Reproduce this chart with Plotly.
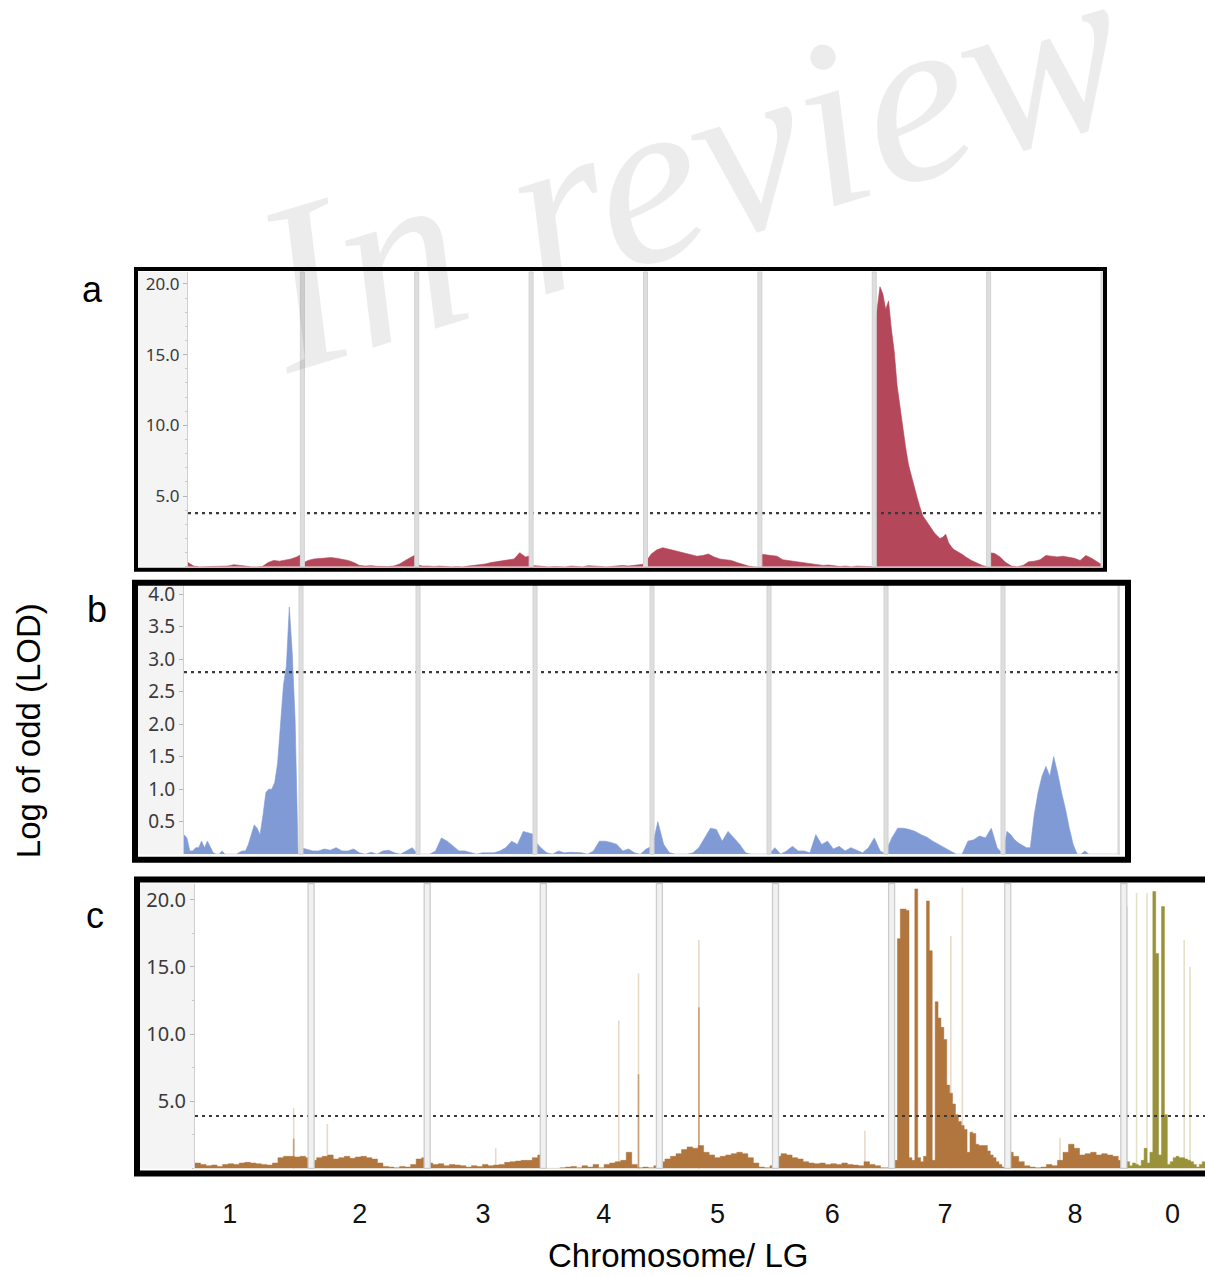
import plotly.graph_objects as go

W, H = 1205, 1276

# ---------------- data ----------------
lg_names = ["1", "2", "3", "4", "5", "6", "7", "8", "0"]
lg_label_pos = [0.30, 1.42, 2.48, 3.52, 4.50, 5.49, 6.46, 7.58, 8.42]

ticks_a = [5.0, 10.0, 15.0, 20.0]
ticks_b = [0.5, 1.0, 1.5, 2.0, 2.5, 3.0, 3.5, 4.0]
ticks_c = [5.0, 10.0, 15.0, 20.0]

threshold_a = 3.8
threshold_b = 2.8
threshold_c = 3.9

# panel a: LOD profile per linkage group 1..8 (evenly spaced markers along each LG)
lod_a = [
    [0.3, 0.05, 0.0, 0.0, 0.0, 0.0, 0.0, 0.05, 0.15, 0.1, 0.0, 0.0, 0.0, 0.02, 0.3, 0.45, 0.4, 0.45, 0.55, 0.7, 0.9],
    [0.25, 0.45, 0.55, 0.6, 0.65, 0.65, 0.6, 0.55, 0.45, 0.3, 0.1, 0.05, 0.08, 0.03, 0.0, 0.02, 0.05, 0.2, 0.45, 0.7, 0.9],
    [0.15, 0.05, 0.05, 0.02, 0.05, 0.0, 0.0, 0.02, 0.0, 0.05, 0.1, 0.12, 0.2, 0.3, 0.35, 0.4, 0.45, 0.55, 1.0, 0.7, 0.8],
    [0.1, 0.05, 0.0, 0.0, 0.02, 0.0, 0.0, 0.05, 0.02, 0.0, 0.08, 0.05, 0.0, 0.0, 0.02, 0.05, 0.1, 0.05, 0.1, 0.15, 0.2],
    [0.3, 0.9, 1.2, 1.35, 1.25, 1.15, 1.05, 1.0, 0.85, 0.75, 0.8, 0.9, 0.7, 0.55, 0.5, 0.45, 0.3, 0.15, 0.05, 0.0, 0.0],
    [0.9, 0.85, 0.8, 0.75, 0.5, 0.45, 0.4, 0.35, 0.3, 0.25, 0.2, 0.1, 0.12, 0.05, 0.02, 0.05, 0.0, 0.05, 0.02, 0.0, 0.0],
    [17.0, 18.2, 19.8, 19.3, 18.2, 18.8, 16.8, 15.2, 12.8, 11.3, 9.7, 8.4, 7.2, 6.4, 5.5, 4.9, 4.2, 3.6, 3.3, 3.0,
     2.7, 2.4, 2.2, 2.0, 2.1, 2.3, 1.7, 1.4, 1.2, 1.1, 1.0, 0.85, 0.7, 0.55, 0.45, 0.35, 0.25, 0.15, 0.08, 0.03, 0.0],
    [1.0, 0.95, 0.7, 0.3, 0.05, 0.0, 0.1, 0.35, 0.4, 0.5, 0.8, 0.75, 0.7, 0.75, 0.7, 0.6, 0.45, 0.8, 0.6, 0.35, 0.1],
]

# panel b
lod_b = [
    [0.3, 0.25, 0.05, 0.05, 0.1, 0.1, 0.2, 0.1, 0.2, 0.1, 0.02, 0.0, 0.0, 0.05, 0.0, 0.0, 0.0, 0.0, 0.0, 0.03,
     0.05, 0.05, 0.15, 0.3, 0.45, 0.4, 0.3, 0.6, 0.95, 1.0, 1.0, 1.1, 1.4, 2.0, 2.6, 2.9, 3.8, 3.1, 2.05, 0.0, 0.0],
    [0.1, 0.08, 0.05, 0.05, 0.08, 0.06, 0.1, 0.05, 0.05, 0.08, 0.02, 0.0, 0.03, 0.0, 0.05, 0.06, 0.02, 0.0, 0.05, 0.1, 0.0],
    [0.0, 0.0, 0.0, 0.05, 0.25, 0.2, 0.12, 0.05, 0.05, 0.02, 0.0, 0.02, 0.02, 0.02, 0.05, 0.1, 0.2, 0.15, 0.35, 0.33, 0.3],
    [0.2, 0.1, 0.02, 0.0, 0.05, 0.02, 0.03, 0.03, 0.02, 0.0, 0.05, 0.2, 0.2, 0.18, 0.15, 0.05, 0.08, 0.02, 0.0, 0.08, 0.12],
    [0.1, 0.5, 0.15, 0.02, 0.0, 0.0, 0.0, 0.02, 0.1, 0.25, 0.4, 0.38, 0.2, 0.35, 0.25, 0.15, 0.02, 0.0, 0.0, 0.0, 0.0],
    [0.0, 0.1, 0.0, 0.05, 0.12, 0.05, 0.05, 0.02, 0.3, 0.15, 0.2, 0.08, 0.12, 0.05, 0.1, 0.06, 0.02, 0.1, 0.25, 0.05, 0.0],
    [0.05, 0.25, 0.4, 0.4, 0.38, 0.35, 0.3, 0.26, 0.2, 0.15, 0.1, 0.05, 0.0, 0.0, 0.2, 0.22, 0.28, 0.25, 0.4, 0.1, 0.0],
    [0.0, 0.35, 0.3, 0.22, 0.17, 0.13, 0.1, 0.1, 0.6, 0.95, 1.2, 1.35, 1.2, 1.5, 1.25, 0.95, 0.7, 0.4, 0.15, 0.0,
     0.0, 0.05, 0.0, 0.0, 0.0, 0.0, 0.0, 0.0, 0.0, 0.0, 0.0],
]

# panel c: binned LOD per LG 1..8 and 0
lod_c = [
    [0.4, 0.3, 0.2, 0.25, 0.15, 0.3, 0.35, 0.3, 0.4, 0.45, 0.4, 0.35, 0.3, 0.25, 0.4, 0.8, 0.9, 0.9, 0.85, 0.9, 0.8],
    [0.6, 0.8, 0.9, 1.0, 0.7, 0.8, 0.9, 0.75, 0.85, 0.9, 0.8, 0.7, 0.4, 0.15, 0.1, 0.05, 0.15, 0.1, 0.3, 0.7, 0.8],
    [0.4, 0.3, 0.35, 0.2, 0.3, 0.25, 0.2, 0.1, 0.2, 0.15, 0.3, 0.2, 0.25, 0.3, 0.45, 0.5, 0.55, 0.6, 0.6, 0.8, 1.0],
    [0.0, 0.0, 0.0, 0.05, 0.1, 0.15, 0.05, 0.2, 0.1, 0.3, 0.05, 0.3, 0.4, 0.5, 0.6, 1.2, 0.3, 0.05, 0.1, 0.05, 0.2],
    [0.5, 0.7, 0.9, 1.1, 1.4, 1.6, 1.5, 1.7, 1.2, 1.0, 0.8, 0.9, 1.0, 1.1, 1.2, 1.1, 0.8, 0.4, 0.1, 0.05, 0.2],
    [0.9, 1.1, 1.0, 0.8, 0.7, 0.5, 0.4, 0.35, 0.4, 0.3, 0.35, 0.3, 0.4, 0.3, 0.25, 0.2, 0.5, 0.3, 0.2, 0.05, 0.05],
    [0.3, 0.6, 17.1, 19.3, 19.3, 19.2, 0.8, 0.6, 20.8, 0.8, 0.5, 0.9, 19.9, 16.2, 0.6, 12.4, 11.2, 10.5, 9.6, 6.2,
     5.6, 4.8, 4.0, 3.5, 3.2, 2.9, 1.2, 2.7, 2.6, 1.8, 1.7, 1.7, 1.7, 1.3, 1.0, 0.8, 0.5, 0.3, 0.1, 0.0],
    [1.2, 0.9, 0.5, 0.2, 0.1, 0.05, 0.1, 0.3, 0.2, 0.6, 1.2, 1.8, 1.5, 1.0, 1.1, 1.2, 1.0, 1.1, 1.0, 0.9, 0.6],
    [0.3, 0.5, 0.2, 0.4, 0.3, 0.2, 0.6, 1.5, 0.4, 1.2, 20.6, 16.0, 1.0, 19.5, 4.0, 0.3, 0.5, 0.8, 0.9, 0.8,
     0.8, 0.7, 0.6, 0.5, 0.3, 0.1, 0.3, 0.5],
]
lg0_bins_per_lg = 40  # LG 0 uses the same marker density as LG 7

# isolated single-marker spikes in panel c (LG index, position within LG, LOD)
faint_spike_lg = [0, 1, 2, 3, 3, 4, 5, 6, 6, 7, 8, 8, 8, 8, 8]
faint_spike_pos = [0.85, 0.14, 0.59, 0.65, 0.82, 0.34, 0.77, 0.51, 0.61, 0.45, 0.03, 0.11, 0.20, 0.52, 0.57]
faint_spike_lod = [4.5, 3.3, 1.5, 11.0, 14.5, 17.0, 2.8, 17.3, 20.9, 2.3, 19.5, 20.5, 20.5, 17.0, 15.0]
mid_spike_lg = [0, 3, 4]
mid_spike_pos = [0.85, 0.82, 0.34]
mid_spike_lod = [2.2, 7.0, 12.0]

# ---------------- styling ----------------
RED = "#b5475a"
BLUE = "#7f9ad5"
BROWN = "#b0763e"
OLIVE = "#9a923a"


def fx(px):
    return px / W


def fy(py):
    return 1 - py / H


fig = go.Figure()

# panel a
for i, vals in enumerate(lod_a):
    n = len(vals)
    xs = [i + k / (n - 1) for k in range(n)]
    fig.add_trace(go.Scatter(x=xs, y=vals, xaxis="x", yaxis="y", mode="lines", fill="tozeroy",
                             line=dict(color=RED, width=0.6), fillcolor=RED,
                             hoverinfo="skip", showlegend=False))
# panel b
for i, vals in enumerate(lod_b):
    n = len(vals)
    xs = [i + k / (n - 1) for k in range(n)]
    fig.add_trace(go.Scatter(x=xs, y=vals, xaxis="x2", yaxis="y2", mode="lines", fill="tozeroy",
                             line=dict(color=BLUE, width=0.6), fillcolor=BLUE,
                             hoverinfo="skip", showlegend=False))
# panel c
for i, vals in enumerate(lod_c):
    n = len(vals)
    step = 1 / (lg0_bins_per_lg if lg_names[i] == "0" else n)
    xs = [i + k * step for k in range(n)] + [i + n * step]
    ys = vals + [vals[-1]]
    col = OLIVE if lg_names[i] == "0" else BROWN
    fig.add_trace(go.Scatter(x=xs, y=ys, xaxis="x3", yaxis="y3", mode="lines", fill="tozeroy",
                             line=dict(color=col, width=0.5, shape="hv"), fillcolor=col,
                             hoverinfo="skip", showlegend=False))


def spike_trace(lgs, poss, lods, alpha, width):
    for target in ("0", None):
        xs, ys = [], []
        for g, p, v in zip(lgs, poss, lods):
            if (lg_names[g] == "0") != (target == "0"):
                continue
            xs += [g + p, g + p, None]
            ys += [0, v, None]
        if not xs:
            continue
        rgb = "154,146,58" if target == "0" else "176,118,62"
        fig.add_trace(go.Scatter(x=xs, y=ys, xaxis="x3", yaxis="y3", mode="lines",
                                 line=dict(color=f"rgba({rgb},{alpha})", width=width),
                                 hoverinfo="skip", showlegend=False))


spike_trace(faint_spike_lg, faint_spike_pos, faint_spike_lod, 0.28, 1.6)
spike_trace(mid_spike_lg, mid_spike_pos, mid_spike_lod, 0.6, 1.6)

# ---------------- layout ----------------
panels = [
    dict(xa="x", ya="y", plot=(188, 1103, 268, 564), ymin=0.0, ymax=20.85, xmax=8,
         border=(136, 1105, 265, 567), bw=4, ticks=ticks_a, thr=threshold_a, fs=17, minor=1.0),
    dict(xa="x2", ya="y2", plot=(184, 1120, 583, 852.5), ymin=0.0, ymax=4.13, xmax=8,
         border=(135, 1128, 580, 858), bw=6, ticks=ticks_b, thr=threshold_b, fs=19, minor=None),
    dict(xa="x3", ya="y3", plot=(195, 1205, 882, 1168), ymin=0.0, ymax=21.2, xmax=(1205 - 195) / 116.1,
         border=(137, 1215, 878, 1173), bw=6, ticks=ticks_c, thr=threshold_c, fs=20, minor=2.5),
]

shapes = []
layout_axes = {}
for idx, p in enumerate(panels):
    l, r, t, b = p["plot"]
    sfx = "" if idx == 0 else str(idx + 1)
    yaxis = dict(domain=[fy(b), fy(t)], range=[p["ymin"], p["ymax"]], anchor=p["xa"],
                 tickmode="array", tickvals=p["ticks"], tickformat=".1f",
                 ticks="outside", ticklen=4, tickcolor="#b5b5b5", tickwidth=1,
                 tickfont=dict(family="Noto Sans", size=p["fs"], color="#3a3a3a"),
                 showline=True, linecolor="#cfcfcf", linewidth=1,
                 showgrid=False, zeroline=False, fixedrange=True)
    if p["minor"]:
        yaxis["minor"] = dict(tickmode="linear", tick0=0, dtick=p["minor"], ticks="outside",
                              ticklen=2, tickcolor="#c8c8c8")
    xaxis = dict(domain=[fx(l), min(1.0, fx(r))], range=[0, p["xmax"]], anchor=p["ya"],
                 showgrid=False, zeroline=False, showline=False, fixedrange=True,
                 showticklabels=False, ticks="")
    if idx == 2:
        xaxis.update(showticklabels=True, tickmode="array", tickvals=lg_label_pos,
                     ticktext=lg_names, ticks="outside", ticklen=21,
                     tickcolor="rgba(0,0,0,0)",
                     tickfont=dict(family="Liberation Sans", size=27, color="#111111"))
    layout_axes["xaxis" + sfx] = xaxis
    layout_axes["yaxis" + sfx] = yaxis

    bl, br, bt, bb = p["border"]
    shapes.append(dict(type="rect", xref="paper", yref="paper", x0=fx(bl + 2), x1=fx(l),
                       y0=fy(b), y1=fy(t), fillcolor="#f4f4f4", line=dict(width=0), layer="below"))
    shapes.append(dict(type="line", xref=p["xa"], yref=p["ya"], x0=0, x1=p["xmax"],
                       y0=p["thr"], y1=p["thr"],
                       line=dict(color="#3a3a3a", width=2.2, dash="3px,4px"), layer="above"))
    for k in range(1, 9):
        if idx == 2:
            shapes.append(dict(type="rect", xref=p["xa"], yref=p["ya"] + " domain",
                               xsizemode="pixel", xanchor=k, x0=-3, x1=3, y0=0, y1=1,
                               fillcolor="#f1f1f1", line=dict(color="#cdcdcd", width=1.3),
                               layer="above"))
        else:
            shapes.append(dict(type="rect", xref=p["xa"], yref=p["ya"] + " domain",
                               xsizemode="pixel", xanchor=k, x0=-2, x1=2, y0=0, y1=1,
                               fillcolor="#dedede", line=dict(color="#d2d2d2", width=1),
                               layer="above"))
    shapes.append(dict(type="rect", xref="paper", yref="paper", x0=fx(bl), x1=fx(br),
                       y0=fy(bb), y1=fy(bt), fillcolor="rgba(0,0,0,0)",
                       line=dict(color="black", width=p["bw"]), layer="above"))

annotations = [
    dict(text="In review", x=fx(690), y=fy(162), xref="paper", yref="paper",
         xanchor="center", yanchor="middle", textangle=-17, showarrow=False,
         font=dict(family="Liberation Serif", size=240, color="rgba(0,0,0,0.075)", style="italic")),
    dict(text="a", x=fx(92), y=fy(286), xref="paper", yref="paper", showarrow=False,
         xanchor="center", yanchor="middle", font=dict(family="Liberation Sans", size=36, color="black")),
    dict(text="b", x=fx(97), y=fy(607), xref="paper", yref="paper", showarrow=False,
         xanchor="center", yanchor="middle", font=dict(family="Liberation Sans", size=36, color="black")),
    dict(text="c", x=fx(95), y=fy(914), xref="paper", yref="paper", showarrow=False,
         xanchor="center", yanchor="middle", font=dict(family="Liberation Sans", size=36, color="black")),
    dict(text="Log of odd (LOD)", x=fx(28), y=fy(729), xref="paper", yref="paper", showarrow=False,
         xanchor="center", yanchor="middle", textangle=-90,
         font=dict(family="Liberation Sans", size=33, color="black")),
    dict(text="Chromosome/ LG", x=fx(678), y=fy(1255), xref="paper", yref="paper", showarrow=False,
         xanchor="center", yanchor="middle",
         font=dict(family="Liberation Sans", size=33, color="black")),
]

fig.update_layout(
    width=W, height=H, margin=dict(l=0, r=0, t=0, b=0),
    paper_bgcolor="white", plot_bgcolor="rgba(0,0,0,0)",
    showlegend=False, shapes=shapes, annotations=annotations,
    **layout_axes,
)

fig.write_html("out.html", config={"displayModeBar": False, "staticPlot": True})

# remove the browser's default page margin so the figure sits at the window origin
with open("out.html", "r", encoding="utf-8") as fh:
    html = fh.read()
html = html.replace("<head>", "<head><style>html,body{margin:0;padding:0;overflow:hidden;}</style>", 1)
with open("out.html", "w", encoding="utf-8") as fh:
    fh.write(html)
